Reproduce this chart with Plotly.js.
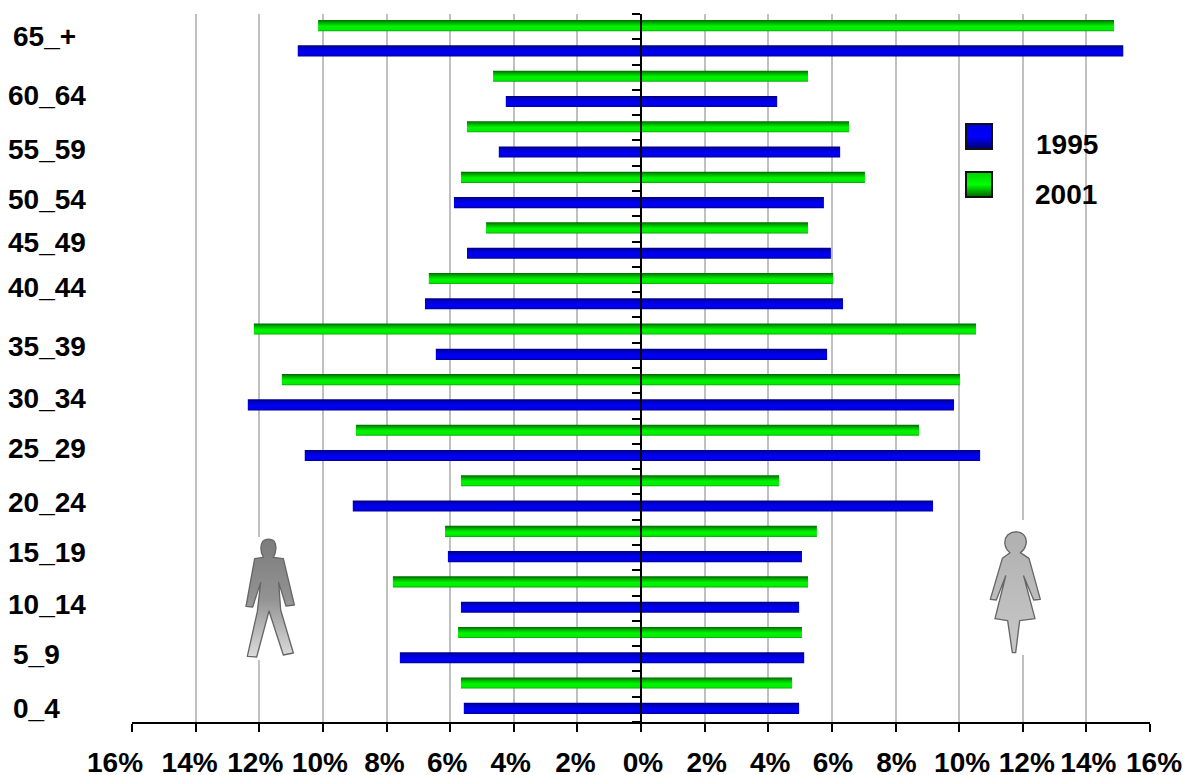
<!DOCTYPE html>
<html>
<head>
<meta charset="utf-8">
<script src="https://cdn.plot.ly/plotly-3.0.1.min.js"></script>
<style>html,body{margin:0;padding:0;background:#fff}</style>
</head>
<body>
<div id="chart" style="width:1183px;height:775px"></div>
<script>
// Age groups, top of chart first
const ageGroups = ["65_+","60_64","55_59","50_54","45_49","40_44","35_39","30_34","25_29","20_24","15_19","10_14","5_9","0_4"];
// Shares in percent, same order
const male2001   = [10.15,4.65,5.47,5.66,4.87,6.67,12.17,11.29,8.96,5.66,6.16,7.80,5.75,5.66];
const female2001 = [14.87,5.25,6.54,7.04,5.25,6.04,10.53,10.03,8.74,4.34,5.53,5.25,5.06,4.75];
const male1995   = [10.79,4.25,4.47,5.88,5.47,6.79,6.45,12.36,10.57,9.06,6.07,5.66,7.58,5.57];
const female1995 = [15.16,4.28,6.26,5.75,5.97,6.35,5.85,9.84,10.66,9.18,5.06,4.97,5.13,4.97];
const tickValues = [-16,-14,-12,-10,-8,-6,-4,-2,0,2,4,6,8,10,12,14,16];
const tickLabels = ["16%","14%","12%","10%","8%","6%","4%","2%","0%","2%","4%","6%","8%","10%","12%","14%","16%"];

// Layout-only constants
const W=1183,H=775,L=132,R=1150,T=14,B=722;
const tickLabelShift=[-17,-6,-4,-3,-2,-3,-3,-2,2,2,2,1,1,3,4,2,4];
const ageLabelPos=[[12,37],[7,96],[7,149],[7,199],[7,242],[7,287],[7,346],[7,399],[7,449],[7,503],[7,552],[7,604],[12,654],[12,708]];
const px=v=>(v-L)/(R-L), py=v=>(B-v)/(B-T);
const font={family:'"Liberation Sans", Arial, sans-serif',size:28,color:'#000',weight:700};

const yPos=ageGroups.map((_,i)=>ageGroups.length-1-i);
const barH=0.22;
function barTrace(name,vals,sign,center,color){
  return {type:'bar',orientation:'h',name:name,x:vals.map(v=>sign*v),y:yPos,text:ageGroups,hoverinfo:'name+text+x',
    textposition:'none',width:barH,offset:center-barH/2,marker:{color:color,line:{width:0}},showlegend:false};
}
const data=[
  barTrace('2001 male',male2001,-1,0.27,'#00dd00'),
  barTrace('2001 female',female2001,1,0.27,'#00dd00'),
  barTrace('1995 male',male1995,-1,-0.23,'#0000dd'),
  barTrace('1995 female',female1995,1,-0.23,'#0000dd')
];

function svgUri(s){return 'data:image/svg+xml;base64,'+btoa(s);}
const manSvg=`<svg xmlns="http://www.w3.org/2000/svg" width="80" height="140" viewBox="0 0 240 420">
<defs><linearGradient id="m" x1="0" y1="0" x2="0" y2="1"><stop offset="0" stop-color="#7c7c7c"/><stop offset="0.5" stop-color="#929292"/><stop offset="1" stop-color="#dcdcdc"/></linearGradient></defs>
<rect x="60" y="36" width="120" height="369" fill="#fff"/>
<path d="M100,97 C92,80 90,62 98,50 C106,40 126,40 133,50 C141,62 138,82 130,97 L160,101 L193,240 L168,243 L146,172 L152,255 L190,384 L160,390 L117,258 L80,396 L52,394 L82,260 L92,172 L68,246 L48,244 L74,101 Z" fill="url(#m)" stroke="#666" stroke-width="4" stroke-linejoin="round"/></svg>`;
const womanSvg=`<svg xmlns="http://www.w3.org/2000/svg" width="80" height="140" viewBox="0 0 240 420">
<defs><linearGradient id="w" x1="0" y1="0" x2="0" y2="1"><stop offset="0" stop-color="#b0b0b0"/><stop offset="1" stop-color="#c8c8c8"/></linearGradient></defs>
<rect x="100" y="0" width="80" height="405" fill="#fff"/>
<path d="M105,98 C88,85 84,60 98,45 C112,32 136,32 148,47 C160,62 152,88 136,98 L162,115 L196,238 L176,240 L146,168 L180,296 L134,302 L122,398 L112,398 L98,302 L60,296 L92,168 L64,240 L46,238 L82,115 Z" fill="url(#w)" stroke="#666" stroke-width="4" stroke-linejoin="round"/></svg>`;

const annotations=ageGroups.map((a,i)=>({text:a,xref:'paper',yref:'paper',x:px(ageLabelPos[i][0]),y:py(ageLabelPos[i][1]),
  xanchor:'left',yanchor:'middle',showarrow:false,font:font,borderpad:0,xshift:0}));
annotations.push({text:'1995',xref:'paper',yref:'paper',x:px(1067),y:py(144),xanchor:'center',yanchor:'middle',showarrow:false,font:font});
annotations.push({text:'2001',xref:'paper',yref:'paper',x:px(1066),y:py(195),xanchor:'center',yanchor:'middle',showarrow:false,font:font});

const rect=(x0,y0,x1,y1,fill,line,layer)=>({type:'rect',xref:'paper',yref:'paper',x0:px(x0),x1:px(x1),y0:py(y1),y1:py(y0),
  fillcolor:fill,line:line,layer:layer});
const layout={
  width:W,height:H,autosize:false,paper_bgcolor:'#fff',plot_bgcolor:'#fff',showlegend:false,barmode:'overlay',
  margin:{l:L,r:W-R,t:T,b:H-B,pad:0},font:font,
  xaxis:{range:[-16,16],tickmode:'array',tickvals:tickValues,ticktext:tickLabels,showgrid:true,gridcolor:'#c0c0c0',gridwidth:2,
    zeroline:false,showline:true,linecolor:'#000',linewidth:2,ticks:'outside',ticklen:8,tickwidth:2,tickcolor:'#000',
    tickfont:font,ticklabelstandoff:6,fixedrange:true,tickangle:0},
  yaxis:{range:[-0.5,13.5],tickmode:'linear',tick0:-0.5,dtick:0.5,anchor:'free',position:0.5,side:'left',showgrid:false,zeroline:false,
    showline:true,linecolor:'#000',linewidth:2,ticks:'outside',ticklen:8,tickwidth:2,tickcolor:'#000',showticklabels:false,fixedrange:true},
  shapes:[
    rect(1000,118,1104,220,'#fff',{width:0},'below'),
    rect(966,124,992,149,'#0000dd',{color:'#111',width:2},'above'),
    rect(966,172,992,197,'#00dd00',{color:'#111',width:2},'above')
  ],
  annotations:annotations,
  images:[
    {source:svgUri(manSvg),xref:'paper',yref:'paper',x:px(230),y:py(525),sizex:80/(R-L),sizey:140/(B-T),xanchor:'left',yanchor:'top',sizing:'stretch',layer:'above'},
    {source:svgUri(womanSvg),xref:'paper',yref:'paper',x:px(975),y:py(520),sizex:80/(R-L),sizey:140/(B-T),xanchor:'left',yanchor:'top',sizing:'stretch',layer:'above'}
  ]
};

function addGrad(defs,id,stops){
  const ns='http://www.w3.org/2000/svg';
  const g=document.createElementNS(ns,'linearGradient');
  g.setAttribute('id',id);['x1','y1','x2'].forEach(k=>g.setAttribute(k,'0'));g.setAttribute('y2','1');
  stops.forEach(s=>{const e=document.createElementNS(ns,'stop');e.setAttribute('offset',s[0]);e.setAttribute('stop-color',s[1]);g.appendChild(e);});
  defs.appendChild(g);
}
Plotly.newPlot('chart',data,layout,{displayModeBar:false,staticPlot:true}).then(gd=>{
  const svg=gd.querySelector('svg.main-svg');
  const ns='http://www.w3.org/2000/svg';
  const defs=svg.querySelector('defs')||svg.insertBefore(document.createElementNS(ns,'defs'),svg.firstChild);
  addGrad(defs,'barG',[[0,'#006600'],[0.25,'#00b000'],[0.55,'#00f400'],[0.85,'#00ee00'],[1,'#00a800']]);
  addGrad(defs,'barB',[[0,'#000080'],[0.3,'#0000d0'],[0.6,'#0000f8'],[0.85,'#0000e0'],[1,'#000090']]);
  addGrad(defs,'legB',[[0,'#0000e0'],[0.5,'#0000ff'],[1,'#000070']]);
  addGrad(defs,'legG',[[0,'#00d000'],[0.5,'#00ff00'],[1,'#006000']]);
  gd.querySelectorAll('.barlayer .trace').forEach((t,i)=>{
    t.querySelectorAll('.point path').forEach(p=>{p.style.fill='url(#'+(i<2?'barG':'barB')+')';});
  });
  gd.querySelectorAll('.shapelayer path').forEach(p=>{
    const f=p.style.fill||'';
    if(f.includes('0, 0, 221'))p.style.fill='url(#legB)';
    if(f.includes('0, 221, 0'))p.style.fill='url(#legG)';
  });
  gd.querySelectorAll('.xtick text').forEach((t,i)=>{
    t.setAttribute('x',parseFloat(t.getAttribute('x'))+tickLabelShift[i]);
  });
});
</script>
</body>
</html>
